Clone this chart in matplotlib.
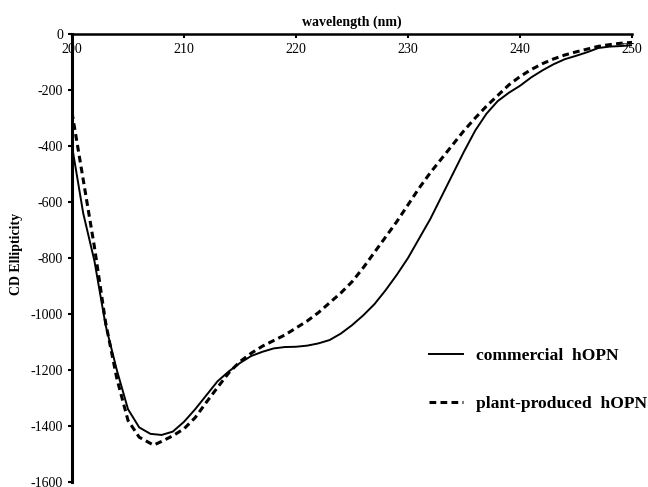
import matplotlib
matplotlib.use('Agg')
import matplotlib.pyplot as plt

plt.rcParams['font.family'] = ['Liberation Serif', 'DejaVu Serif']
plt.rcParams['axes.unicode_minus'] = False

# commercial hOPN (solid)
wl_com = [200, 200.5, 201, 202, 203, 204, 205, 206, 207, 208, 209, 210,
          211, 212, 213, 214, 215, 216, 217, 218, 219, 220, 221, 222, 223,
          224, 225, 226, 227, 228, 229, 230, 231, 232, 233, 234, 235, 236,
          237, 238, 239, 240, 241, 242, 243, 244, 245, 246, 247, 248, 249, 250]
cd_com = [-400, -520, -640, -810, -1040, -1200, -1340, -1405, -1428, -1432,
          -1420, -1385, -1340, -1290, -1240, -1205, -1175, -1150, -1135, -1123,
          -1118, -1117, -1113, -1105, -1093, -1070, -1040, -1005, -965, -915,
          -860, -800, -730, -660, -580, -500, -420, -345, -285, -240, -210,
          -185, -155, -130, -108, -90, -78, -65, -50, -45, -43, -40]

# plant-produced hOPN (dashed)
wl_pla = [200, 200.5, 201, 202, 203, 204, 205, 206, 207, 207.3, 208, 209, 210,
          211, 212, 213, 214, 215, 216, 217, 218, 219, 220, 221, 222, 223,
          224, 225, 226, 227, 228, 229, 230, 231, 232, 233, 234, 235, 236,
          237, 238, 239, 240, 241, 242, 243, 244, 245, 246, 247, 248, 249, 250]
cd_pla = [-280, -400, -520, -760, -1030, -1230, -1380, -1440, -1462, -1468,
          -1455, -1435, -1410, -1370, -1315, -1262, -1210, -1170, -1140, -1115,
          -1095, -1075, -1050, -1025, -995, -960, -925, -885, -835, -780, -725,
          -670, -610, -550, -495, -445, -395, -345, -300, -258, -220, -182,
          -152, -127, -106, -89, -75, -64, -54, -44, -38, -33, -30]

xticks = [200, 210, 220, 230, 240, 250]
yticks = [0, -200, -400, -600, -800, -1000, -1200, -1400, -1600]

fig = plt.figure(figsize=(6.48, 4.87), dpi=100, facecolor='white')
ax = fig.add_axes([72/648, 5/487, 560/648, 448/487])

ax.plot(wl_com, cd_com, color='black', lw=1.4, label='commercial  hOPN')
ax.plot(wl_pla, cd_pla, color='black', lw=2.2, ls=(0, (2.2, 1.4)),
        label='plant-produced  hOPN')

ax.set_xlim(200, 250)
ax.set_ylim(-1600, 0)
ax.set_xticks(xticks)
ax.set_yticks(yticks)
ax.tick_params(labelsize=10, width=1.5, length=3)

ax.spines['right'].set_visible(False)
ax.spines['top'].set_visible(False)
ax.spines['bottom'].set_position(('data', 0))
ax.spines['bottom'].set_linewidth(1.8)
ax.spines['left'].set_linewidth(2.2)

ax.xaxis.set_label_position('top')
ax.set_xlabel('wavelength (nm)', fontsize=10, fontweight='bold', labelpad=6)
ax.set_ylabel('CD Ellipticity', fontsize=10, fontweight='bold')
ax.yaxis.set_label_coords(-0.088, 0.51)

leg = ax.legend(loc='upper left', bbox_to_anchor=(0.61, 0.335), frameon=False,
                prop={'size': 12.6, 'weight': 'bold'}, handlelength=1.9,
                labelspacing=1.8, handletextpad=0.75)

fig.savefig('out.png', dpi=100)
